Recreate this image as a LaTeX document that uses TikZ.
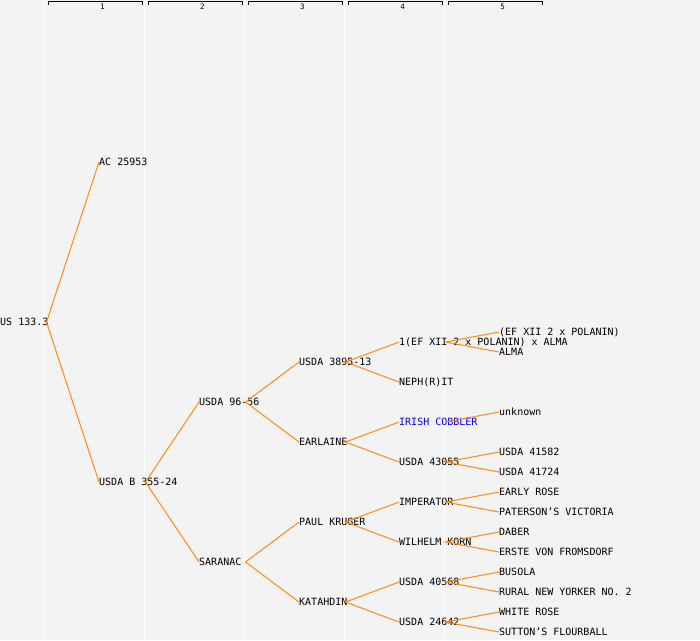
\documentclass[tikz,border=0pt]{standalone}
\usepackage{fontspec}
\setmonofont{DejaVu Sans Mono}
\definecolor{bggray}{HTML}{F3F3F3}
\definecolor{linkorange}{HTML}{FF8A14}
\begin{document}
\begin{tikzpicture}[x=1pt,y=-1pt,
  every node/.style =
   {font=\ttfamily\fontsize{10}{12}\selectfont,inner sep=0pt,anchor=west,
    text height=7.3pt,text depth=0pt},
  link/.style = {draw=linkorange,line width=1pt}]
   \useasboundingbox (0,0) rectangle (700,640);
   \fill[bggray] (0,0) rectangle (700,640);
   \foreach \x in {44.5,144.5,244.5,344.5,444.5}
     \draw[white,line width=1.2pt] (\x,0) -- (\x,640);
   % generation scale
   \foreach \i in {1,...,5}{
     \draw[line width=0.8pt] ({100*\i-52},4.5) -- ++(0,-3) -- ++(94.5,0) -- ++(0,3);
     \node[anchor=center,font=\ttfamily\fontsize{7.5}{8}\selectfont,text height=5.4pt]
       (g\i) at ({100*\i+2.5},6.8) {\i};
   }
   % pedigree
   \node (root) at (0,322) {US 133.3};
   \node (ac) at (99,162) {AC 25953};
   \node (usdab) at (99,482) {USDA B 355-24};
   \node (usda9656) at (199,402) {USDA 96-56};
   \node (saranac) at (199,562) {SARANAC};
   \node (usda3895) at (299,362) {USDA 3895-13};
   \node (earlaine) at (299,442) {EARLAINE};
   \node (kruger) at (299,522) {PAUL KRUGER};
   \node (katahdin) at (299,602) {KATAHDIN};
   \node (efalma) at (399,342) {1(EF XII 2 x POLANIN) x ALMA};
   \node (nephrit) at (399,382) {NEPH(R)IT};
   \node[text=blue] (cobbler) at (399,422) {IRISH COBBLER};
   \node (usda43055) at (399,462) {USDA 43055};
   \node (imperator) at (399,502) {IMPERATOR};
   \node (korn) at (399,542) {WILHELM KORN};
   \node (usda40568) at (399,582) {USDA 40568};
   \node (usda24642) at (399,622) {USDA 24642};
   \node (efpol) at (499,332) {(EF XII 2 x POLANIN)};
   \node (alma) at (499,352) {ALMA};
   \node (unknown) at (499,412) {unknown};
   \node (usda41582) at (499,452) {USDA 41582};
   \node (usda41724) at (499,472) {USDA 41724};
   \node (earlyrose) at (499,492) {EARLY ROSE};
   \node (paterson) at (499,512) {PATERSON’S VICTORIA};
   \node (daber) at (499,532) {DABER};
   \node (erste) at (499,552) {ERSTE VON FROMSDORF};
   \node (busola) at (499,572) {BUSOLA};
   \node (rural) at (499,592) {RURAL NEW YORKER NO. 2};
   \node (whiterose) at (499,612) {WHITE ROSE};
   \node (sutton) at (499,632) {SUTTON’S FLOURBALL};
   \foreach \p/\a/\b in {root/ac/usdab,usdab/usda9656/saranac,
       usda9656/usda3895/earlaine,saranac/kruger/katahdin,
       usda3895/efalma/nephrit,earlaine/cobbler/usda43055,
       kruger/imperator/korn,katahdin/usda40568/usda24642,
       efalma/efpol/alma,usda43055/usda41582/usda41724,
       imperator/earlyrose/paterson,korn/daber/erste,
       usda40568/busola/rural,usda24642/whiterose/sutton}
     \draw[link] (\a.west) -- ([xshift=46.5pt]\p.west) -- (\b.west);
   \draw[link] ([xshift=46.5pt]cobbler.west) -- (unknown.west);
\end{tikzpicture}
\end{document}
